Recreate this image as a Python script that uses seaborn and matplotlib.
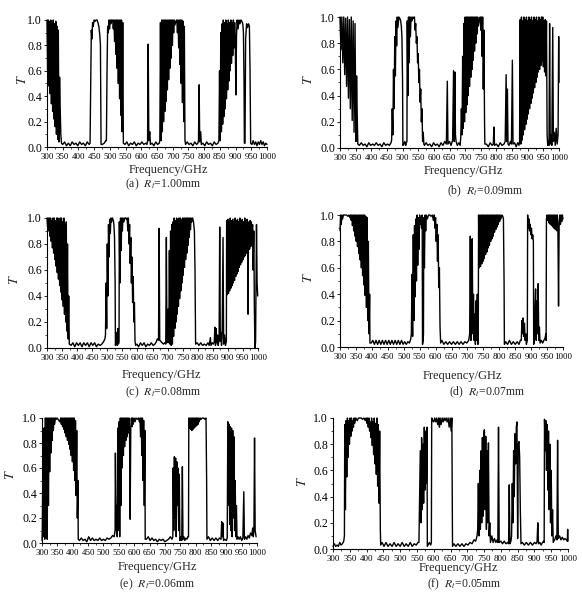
import matplotlib
matplotlib.use("Agg")
import matplotlib.pyplot as plt
import seaborn as sns
from matplotlib.ticker import MultipleLocator

sns.set_style("ticks")
plt.rcParams['font.family'] = ['Liberation Serif', 'DejaVu Serif']
plt.rcParams['mathtext.fontset'] = 'stix'

# transmission spectra: (frequency GHz, T)
spec_a = [
    (300, 1.0), (302, 0.6), (304, 1.0), (306, 0.48), (308, 0.99), (310, 0.42), (312, 1.0), (314, 0.34),
    (316, 0.98), (318, 0.28), (320, 1.0), (322, 0.22), (324, 0.97), (326, 0.16), (328, 0.99), (330, 0.10),
    (332, 0.95), (334, 0.06), (336, 0.92), (338, 0.04), (340, 0.55), (342, 0.3), (344, 0.1), (346, 0.03),
    (350, 0.02), (356, 0.04), (362, 0.01), (368, 0.03), (374, 0.01), (380, 0.04), (386, 0.02), (392, 0.03),
    (398, 0.01), (404, 0.04), (410, 0.02), (416, 0.03), (422, 0.01), (428, 0.04), (434, 0.02), (437, 0.03),
    (439, 0.5), (441, 0.92), (443, 0.85), (445, 0.98), (447, 0.95), (450, 1.0), (453, 0.99), (456, 1.0),
    (459, 1.0), (462, 0.98), (465, 0.95), (468, 0.88), (470, 0.8), (471, 0.4), (472, 0.02),
    (476, 0.02), (482, 0.03), (487, 0.05), (489, 0.05), (491, 0.6), (493, 0.95), (495, 0.9), (497, 1.0),
    (499, 0.93), (501, 1.0), (503, 0.97), (505, 1.0), (507, 0.99), (509, 1.0), (511, 0.93), (513, 1.0),
    (515, 0.83), (517, 1.0), (519, 0.73), (521, 1.0), (523, 0.62), (525, 1.0), (527, 0.5), (529, 1.0),
    (531, 0.38), (533, 1.0), (535, 0.25), (537, 1.0), (539, 0.12), (541, 0.98), (543, 0.03),
    (548, 0.02), (554, 0.04), (560, 0.01), (566, 0.03), (572, 0.02), (578, 0.04), (584, 0.01), (590, 0.03),
    (596, 0.02), (602, 0.04), (608, 0.02), (614, 0.03), (618, 0.02), (620, 0.05), (622, 0.81), (624, 0.05),
    (627, 0.12), (629, 0.02), (634, 0.03), (640, 0.01), (646, 0.04), (652, 0.02), (657, 0.03),
    (659, 0.05), (661, 0.98), (663, 0.05), (665, 1.0), (667, 0.12), (669, 1.0), (671, 0.2), (673, 1.0),
    (675, 0.28), (677, 1.0), (679, 0.36), (681, 1.0), (683, 0.45), (685, 1.0), (687, 0.53), (689, 1.0),
    (691, 0.62), (693, 1.0), (695, 0.7), (697, 1.0), (699, 0.8), (701, 1.0), (703, 0.9), (705, 1.0),
    (707, 0.96), (710, 0.99), (713, 1.0), (715, 0.9), (717, 1.0), (719, 0.78), (721, 1.0), (723, 0.65),
    (725, 1.0), (727, 0.5), (729, 1.0), (731, 0.35), (733, 0.99), (735, 0.2), (737, 0.95), (739, 0.05),
    (741, 0.02), (746, 0.04), (752, 0.02), (758, 0.03), (764, 0.01), (770, 0.04), (776, 0.02), (780, 0.03),
    (782, 0.05), (784, 0.49), (786, 0.04), (789, 0.12), (791, 0.02), (796, 0.03), (802, 0.01), (808, 0.04),
    (814, 0.02), (820, 0.03), (826, 0.01), (832, 0.04), (838, 0.02), (844, 0.03),
    (847, 0.05), (849, 0.6), (851, 0.05), (853, 0.9), (855, 0.12), (857, 0.97), (859, 0.18), (861, 1.0),
    (863, 0.24), (865, 0.98), (867, 0.3), (869, 1.0), (871, 0.38), (873, 0.97), (875, 0.45), (877, 1.0),
    (879, 0.52), (881, 0.98), (883, 0.6), (885, 1.0), (887, 0.66), (889, 0.98), (891, 0.72), (893, 1.0),
    (895, 0.78), (897, 0.98), (899, 0.84), (901, 0.41), (903, 0.88), (905, 1.0), (908, 0.93), (911, 1.0),
    (914, 0.97), (917, 1.0), (920, 0.99), (923, 0.97), (925, 0.9), (927, 0.5), (928, 0.03), (930, 0.03),
    (932, 0.85), (935, 0.97), (938, 0.94), (941, 0.97), (944, 0.95), (946, 0.6), (948, 0.03),
    (952, 0.02), (956, 0.05), (960, 0.02), (964, 0.04), (968, 0.01), (972, 0.04), (976, 0.02), (980, 0.05),
    (984, 0.02), (988, 0.04), (992, 0.01), (996, 0.03), (1000, 0.02),
]

spec_b = [
    (300, 1.0), (303, 0.75), (306, 1.0), (309, 0.65), (312, 1.0), (315, 0.56), (318, 0.99), (321, 0.47),
    (324, 1.0), (327, 0.38), (330, 0.98), (333, 0.3), (336, 1.0), (339, 0.21), (342, 0.97), (345, 0.12),
    (348, 0.95), (351, 0.05), (353, 0.55), (355, 0.25), (357, 0.03),
    (362, 0.02), (368, 0.04), (374, 0.02), (380, 0.03), (386, 0.01), (392, 0.04), (398, 0.02), (404, 0.03),
    (410, 0.02), (416, 0.04), (422, 0.02), (428, 0.03), (434, 0.01), (440, 0.04), (446, 0.02), (452, 0.03),
    (458, 0.02), (463, 0.04),
    (465, 0.06), (467, 0.3), (469, 0.1), (471, 0.6), (473, 0.3), (475, 0.85), (477, 0.55), (479, 0.97),
    (481, 0.78), (483, 1.0), (485, 0.92), (488, 1.0), (491, 0.99), (494, 0.97), (496, 0.93), (498, 0.85),
    (500, 0.5), (501, 0.02), (504, 0.03), (507, 0.05), (510, 0.02), (512, 0.04),
    (514, 0.05), (515, 0.97), (517, 0.4), (519, 1.0), (521, 0.65), (523, 1.0), (525, 0.85), (527, 1.0),
    (530, 0.97), (533, 1.0), (536, 0.99), (538, 1.0), (540, 0.9), (542, 0.95), (544, 0.8), (546, 0.85),
    (548, 0.65), (550, 0.72), (552, 0.5), (554, 0.6), (556, 0.35), (558, 0.45), (560, 0.2), (562, 0.3),
    (564, 0.05), (566, 0.12), (568, 0.03), (570, 0.02),
    (575, 0.04), (581, 0.02), (587, 0.03), (593, 0.01), (599, 0.04), (605, 0.02), (611, 0.03), (617, 0.01),
    (623, 0.04), (629, 0.02), (635, 0.05), (640, 0.03), (643, 0.51), (645, 0.03), (650, 0.05), (655, 0.02),
    (660, 0.06), (663, 0.59), (665, 0.05), (667, 0.58), (669, 0.1), (671, 0.05), (675, 0.02), (680, 0.04),
    (684, 0.02), (686, 0.08),
    (688, 0.3), (690, 0.1), (692, 0.7), (694, 0.15), (696, 0.95), (698, 0.2), (700, 1.0), (702, 0.27),
    (704, 1.0), (706, 0.33), (708, 1.0), (710, 0.4), (712, 1.0), (714, 0.47), (716, 1.0), (718, 0.54),
    (720, 1.0), (722, 0.6), (724, 1.0), (726, 0.67), (728, 1.0), (730, 0.74), (732, 1.0), (734, 0.8),
    (736, 1.0), (738, 0.87), (740, 1.0), (742, 0.93), (745, 0.98), (748, 1.0), (750, 0.9), (752, 1.0),
    (754, 0.7), (756, 1.0), (758, 0.45), (760, 0.9), (762, 0.2), (763, 0.03),
    (768, 0.03), (774, 0.01), (780, 0.04), (786, 0.02), (790, 0.03), (792, 0.16), (794, 0.02), (800, 0.03),
    (806, 0.01), (812, 0.04), (818, 0.02), (824, 0.03), (828, 0.05), (830, 0.4), (831, 0.56), (833, 0.05),
    (835, 0.45), (837, 0.03), (840, 0.02), (845, 0.05), (848, 0.03), (851, 0.67), (853, 0.03), (858, 0.04),
    (863, 0.01), (868, 0.04), (872, 0.02),
    (874, 0.05), (876, 0.98), (878, 0.03), (880, 1.0), (882, 0.06), (884, 0.97), (886, 0.1), (888, 1.0),
    (890, 0.14), (892, 0.98), (894, 0.18), (896, 1.0), (898, 0.22), (900, 0.97), (902, 0.26), (904, 1.0),
    (906, 0.3), (908, 0.98), (910, 0.34), (912, 1.0), (914, 0.38), (916, 0.97), (918, 0.42), (920, 1.0),
    (922, 0.46), (924, 0.98), (926, 0.5), (928, 1.0), (930, 0.54), (932, 0.97), (934, 0.58), (936, 1.0),
    (938, 0.6), (940, 0.98), (942, 0.63), (944, 1.0), (946, 0.66), (948, 1.0), (950, 0.62), (952, 0.97),
    (954, 0.58), (956, 0.98), (958, 0.55), (960, 0.97), (962, 0.1), (964, 0.02), (966, 0.05), (968, 0.02),
    (970, 0.95), (972, 0.03), (975, 0.1), (977, 0.02), (980, 0.92), (982, 0.05), (985, 0.12), (988, 0.02),
    (991, 0.15), (994, 0.03), (997, 0.1), (999, 0.85), (1000, 0.5),
]

spec_c = [
    (300, 1.0), (302, 0.93), (304, 1.0), (306, 0.9), (308, 1.0), (310, 0.86), (312, 1.0), (314, 0.82),
    (316, 0.98), (318, 0.77), (320, 1.0), (322, 0.73), (324, 1.0), (326, 0.68), (328, 0.98), (330, 0.63),
    (332, 1.0), (334, 0.58), (336, 1.0), (338, 0.53), (340, 0.98), (342, 0.48), (344, 1.0), (346, 0.43),
    (348, 1.0), (350, 0.37), (352, 0.97), (354, 0.32), (356, 1.0), (358, 0.26), (360, 0.95), (362, 0.2),
    (364, 0.97), (366, 0.13), (368, 0.8), (370, 0.07), (372, 0.4), (374, 0.03),
    (380, 0.02), (386, 0.04), (392, 0.01), (398, 0.04), (404, 0.02), (410, 0.04), (416, 0.01), (422, 0.04),
    (428, 0.02), (434, 0.04), (440, 0.01), (446, 0.04), (452, 0.02), (458, 0.04), (464, 0.01), (470, 0.03),
    (476, 0.02), (482, 0.03), (488, 0.05), (492, 0.07),
    (494, 0.1), (496, 0.5), (498, 0.15), (500, 0.8), (502, 0.4), (504, 0.95), (506, 0.7), (508, 0.99),
    (510, 0.88), (512, 1.0), (514, 0.97), (517, 1.0), (520, 0.98), (522, 0.95), (524, 0.85), (526, 0.5),
    (527, 0.02), (529, 0.05), (531, 0.12), (533, 0.02), (535, 0.15), (537, 0.03),
    (539, 0.05), (540, 0.97), (542, 0.5), (544, 1.0), (546, 0.75), (548, 1.0), (550, 0.9), (552, 1.0),
    (555, 0.97), (558, 1.0), (561, 1.0), (564, 0.99), (566, 1.0), (568, 0.9), (570, 1.0), (572, 0.8),
    (574, 0.95), (576, 0.65), (578, 0.85), (580, 0.5), (582, 0.7), (584, 0.35), (586, 0.55), (588, 0.2),
    (590, 0.35), (592, 0.05), (594, 0.02),
    (598, 0.03), (604, 0.01), (610, 0.04), (616, 0.02), (622, 0.04), (628, 0.01), (634, 0.03), (640, 0.02),
    (646, 0.04), (652, 0.02), (658, 0.03), (663, 0.05), (666, 0.07), (670, 0.06), (672, 0.92), (674, 0.06),
    (678, 0.05), (682, 0.04), (686, 0.03), (690, 0.04), (694, 0.03), (696, 0.85), (698, 0.04), (700, 0.06),
    (702, 0.3), (704, 0.04), (706, 0.75), (708, 0.03), (710, 0.9), (712, 0.02), (714, 0.95), (716, 0.03),
    (718, 0.97), (720, 0.09), (722, 1.0), (724, 0.15), (726, 0.98), (728, 0.2), (730, 1.0), (732, 0.26),
    (734, 0.99), (736, 0.32), (738, 1.0), (740, 0.38), (742, 1.0), (744, 0.44), (746, 0.99), (748, 0.5),
    (750, 1.0), (752, 0.56), (754, 1.0), (756, 0.62), (758, 1.0), (760, 0.68), (762, 1.0), (764, 0.73),
    (766, 1.0), (768, 0.79), (770, 1.0), (772, 0.85), (774, 1.0), (776, 0.91), (778, 1.0), (780, 0.97),
    (783, 1.0), (786, 0.97), (789, 0.9), (791, 0.6), (793, 0.03),
    (798, 0.04), (804, 0.02), (810, 0.04), (816, 0.02), (822, 0.03), (828, 0.02), (834, 0.04), (838, 0.02),
    (842, 0.08), (844, 0.02), (848, 0.04), (852, 0.03), (855, 0.05), (857, 0.16), (859, 0.02), (861, 0.15),
    (863, 0.04), (866, 0.1), (868, 0.02), (871, 0.08), (873, 0.93), (875, 0.05), (877, 0.12), (879, 0.02),
    (881, 0.1), (884, 0.85), (886, 0.03), (889, 0.1), (892, 0.02), (895, 0.05),
    (896, 0.98), (898, 0.41), (900, 0.99), (902, 0.42), (904, 0.97), (906, 0.44), (908, 1.0), (910, 0.46),
    (912, 0.98), (914, 0.48), (916, 0.99), (918, 0.5), (920, 0.97), (922, 0.52), (924, 1.0), (926, 0.55),
    (928, 0.98), (930, 0.57), (932, 0.99), (934, 0.59), (936, 0.97), (938, 0.62), (940, 1.0), (942, 0.64),
    (944, 0.98), (946, 0.66), (948, 0.99), (950, 0.68), (952, 0.97), (954, 0.7), (956, 1.0), (958, 0.71),
    (960, 0.98), (962, 0.73), (964, 0.99), (966, 0.74), (967, 0.26), (968, 0.75), (970, 0.97), (972, 0.76),
    (974, 0.98), (976, 0.78), (978, 0.97), (980, 0.8), (982, 0.95), (984, 0.6), (986, 0.9), (988, 0.3),
    (990, 0.0), (992, 0.05), (994, 0.6), (995, 0.95), (997, 0.5), (999, 0.4),
]

spec_d = [
    (300, 0.88), (302, 1.0), (304, 0.93), (306, 1.0), (308, 0.97), (311, 1.0), (315, 1.0), (320, 1.0),
    (325, 0.99), (328, 1.0), (331, 0.98), (333, 1.0), (335, 0.96), (337, 1.0), (339, 0.92), (341, 1.0),
    (343, 0.88), (345, 1.0), (347, 0.84), (349, 1.0), (351, 0.8), (353, 1.0), (355, 0.76), (357, 1.0),
    (359, 0.71), (361, 1.0), (363, 0.66), (365, 1.0), (367, 0.6), (369, 1.0), (371, 0.54), (373, 1.0),
    (375, 0.47), (377, 1.0), (379, 0.39), (381, 0.99), (383, 0.3), (385, 0.98), (387, 0.2), (389, 0.8),
    (391, 0.1), (393, 0.4), (394, 0.03),
    (398, 0.03), (403, 0.05), (408, 0.02), (413, 0.05), (418, 0.02), (423, 0.05), (428, 0.02), (433, 0.05),
    (438, 0.02), (443, 0.05), (448, 0.02), (453, 0.05), (458, 0.02), (463, 0.05), (468, 0.02), (473, 0.05),
    (478, 0.02), (483, 0.05), (488, 0.02), (493, 0.05), (498, 0.02), (503, 0.04), (508, 0.02), (513, 0.04),
    (518, 0.03), (522, 0.06),
    (524, 0.1), (526, 0.55), (528, 0.08), (530, 0.85), (532, 0.2), (534, 0.92), (536, 0.38), (538, 0.97),
    (540, 0.5), (542, 1.0), (544, 0.62), (546, 0.98), (548, 0.74), (550, 1.0), (552, 0.93), (554, 0.98),
    (556, 0.9), (558, 1.0), (559, 0.02), (561, 0.05),
    (562, 0.1), (563, 0.98), (565, 0.6), (567, 1.0), (569, 0.88), (571, 1.0), (574, 0.97), (578, 1.0),
    (582, 1.0), (586, 0.99), (590, 1.0), (593, 0.96), (596, 1.0), (598, 0.9), (600, 0.98), (602, 0.8),
    (604, 0.93), (606, 0.65), (608, 0.85), (610, 0.45), (612, 0.6), (614, 0.15), (616, 0.03),
    (620, 0.05), (626, 0.02), (632, 0.04), (638, 0.02), (644, 0.04), (650, 0.02), (656, 0.04), (662, 0.02),
    (668, 0.04), (674, 0.02), (680, 0.04), (686, 0.02), (692, 0.04), (698, 0.03), (704, 0.05),
    (707, 0.1), (709, 0.84), (711, 0.05), (713, 0.5), (715, 0.82), (717, 0.1), (719, 0.4), (721, 0.05),
    (723, 0.25), (725, 0.02), (727, 0.35), (729, 0.05), (731, 0.4), (733, 0.02),
    (734, 0.05), (735, 1.0), (737, 0.6), (739, 1.0), (741, 0.61), (743, 1.0), (745, 0.63), (747, 1.0),
    (749, 0.65), (751, 1.0), (753, 0.67), (755, 1.0), (757, 0.7), (759, 1.0), (761, 0.72), (763, 1.0),
    (765, 0.75), (767, 1.0), (769, 0.77), (771, 1.0), (773, 0.8), (775, 1.0), (777, 0.82), (779, 1.0),
    (781, 0.84), (783, 1.0), (785, 0.87), (787, 1.0), (789, 0.89), (791, 1.0), (793, 0.91), (795, 1.0),
    (797, 0.93), (799, 1.0), (801, 0.95), (803, 1.0), (805, 0.97), (808, 1.0), (811, 0.99), (813, 0.97),
    (815, 0.5), (816, 0.02),
    (820, 0.04), (826, 0.02), (832, 0.05), (838, 0.02), (844, 0.04), (850, 0.02), (856, 0.04), (862, 0.02),
    (866, 0.05), (869, 0.05), (871, 0.2), (873, 0.1), (875, 0.22), (877, 0.08), (879, 0.18), (881, 0.05),
    (883, 0.1), (885, 0.02), (887, 0.04),
    (888, 0.05), (889, 1.0), (891, 0.9), (893, 0.97), (895, 0.88), (897, 0.93), (899, 0.85), (901, 0.9),
    (903, 0.82), (905, 0.85), (907, 0.8), (908, 0.02), (910, 0.05), (912, 0.3), (914, 0.44), (916, 0.05),
    (918, 0.35), (920, 0.1), (922, 0.48), (924, 0.05), (926, 0.15), (928, 0.03), (932, 0.05), (936, 0.03),
    (940, 0.05), (944, 0.07), (946, 0.1),
    (947, 0.05), (948, 0.97), (950, 1.0), (952, 0.96), (954, 1.0), (956, 0.94), (958, 1.0), (960, 0.93),
    (962, 1.0), (964, 0.92), (966, 1.0), (968, 0.91), (970, 1.0), (972, 0.9), (974, 1.0), (976, 0.89),
    (978, 1.0), (980, 0.88), (982, 1.0), (984, 0.9), (986, 0.31), (988, 0.95), (990, 1.0), (992, 0.93),
    (994, 1.0), (996, 0.95), (998, 1.0), (1000, 0.97),
]

spec_e = [
    (300, 0.02), (301, 0.1), (303, 0.65), (305, 0.05), (307, 0.92), (309, 0.03), (311, 1.0), (313, 0.05),
    (315, 1.0), (317, 0.03), (319, 1.0), (321, 0.3), (323, 1.0), (325, 0.57), (327, 1.0), (329, 0.72),
    (331, 1.0), (333, 0.82), (335, 1.0), (337, 0.9), (339, 1.0), (341, 0.95), (344, 1.0), (347, 0.99),
    (349, 1.0), (352, 0.99), (355, 0.98), (358, 0.97), (361, 1.0), (363, 0.95), (365, 1.0), (367, 0.93),
    (369, 1.0), (371, 0.91), (373, 1.0), (375, 0.88), (377, 1.0), (379, 0.85), (381, 1.0), (383, 0.82),
    (385, 1.0), (387, 0.79), (389, 1.0), (391, 0.75), (393, 1.0), (395, 0.7), (397, 1.0), (399, 0.65),
    (401, 1.0), (403, 0.58), (405, 1.0), (407, 0.5), (409, 0.98), (411, 0.38), (413, 0.9), (415, 0.2),
    (417, 0.5), (418, 0.03),
    (422, 0.02), (428, 0.04), (434, 0.02), (440, 0.03), (446, 0.01), (452, 0.05), (458, 0.02), (464, 0.04),
    (470, 0.02), (476, 0.03), (482, 0.02), (488, 0.04), (494, 0.02), (500, 0.03), (506, 0.02), (512, 0.04),
    (518, 0.03), (524, 0.04), (530, 0.06), (535, 0.05), (538, 0.1),
    (539, 0.72), (541, 0.1), (543, 0.3), (545, 0.05), (547, 0.92), (549, 0.1), (551, 0.97), (553, 0.05),
    (555, 1.0), (557, 0.3), (559, 1.0), (561, 0.6), (563, 1.0), (565, 0.7), (567, 1.0), (569, 0.77),
    (571, 1.0), (573, 0.82), (575, 1.0), (577, 0.85), (579, 1.0), (581, 0.88), (583, 1.0), (585, 0.9),
    (587, 0.19), (589, 0.92), (591, 1.0), (593, 0.93), (595, 1.0), (597, 0.95), (600, 1.0), (603, 0.97),
    (606, 1.0), (610, 0.99), (614, 1.0), (617, 0.97), (619, 1.0), (621, 0.85), (623, 1.0), (625, 0.7),
    (627, 1.0), (629, 0.5), (631, 0.98), (633, 0.3), (635, 0.9), (636, 0.03),
    (640, 0.03), (646, 0.05), (652, 0.02), (658, 0.04), (664, 0.02), (670, 0.03), (676, 0.01), (682, 0.03),
    (688, 0.02), (694, 0.03), (700, 0.01), (706, 0.02), (712, 0.03), (718, 0.05), (723, 0.03),
    (726, 0.05), (727, 0.6), (729, 0.1), (731, 0.69), (733, 0.2), (735, 0.68), (737, 0.05), (739, 0.65),
    (741, 0.3), (743, 0.6), (745, 0.1), (747, 0.55), (749, 0.02), (752, 0.05), (755, 0.02), (757, 0.61),
    (759, 0.03), (762, 0.05), (765, 0.02), (768, 0.04), (772, 0.03), (775, 0.05),
    (777, 0.05), (778, 1.0), (780, 0.92), (782, 1.0), (784, 0.91), (786, 1.0), (788, 0.9), (790, 1.0),
    (792, 0.91), (794, 1.0), (796, 0.92), (798, 1.0), (800, 0.93), (802, 1.0), (804, 0.94), (806, 1.0),
    (808, 0.95), (810, 1.0), (812, 0.97), (815, 1.0), (818, 0.99), (822, 1.0), (826, 1.0), (830, 0.99),
    (834, 1.0), (836, 0.5), (837, 0.03),
    (842, 0.05), (848, 0.02), (854, 0.04), (860, 0.02), (866, 0.04), (872, 0.02), (878, 0.04), (883, 0.03),
    (885, 0.17), (887, 0.05), (889, 0.16), (891, 0.02), (895, 0.03), (900, 0.02), (903, 0.04),
    (905, 0.97), (907, 0.3), (909, 0.95), (911, 0.15), (913, 0.93), (915, 0.1), (917, 0.92), (919, 0.05),
    (921, 0.9), (923, 0.2), (925, 0.85), (927, 0.1), (929, 0.5), (931, 0.05), (933, 0.3), (935, 0.03),
    (938, 0.05), (942, 0.03), (946, 0.05), (950, 0.02), (954, 0.04), (957, 0.41), (959, 0.03), (963, 0.05),
    (967, 0.03), (971, 0.06), (975, 0.04), (979, 0.08), (983, 0.06), (986, 0.12), (988, 0.05), (990, 0.1),
    (992, 0.84), (994, 0.1), (997, 0.05),
]

spec_f = [
    (300, 0.02), (304, 0.04), (308, 0.02), (312, 0.03), (316, 0.02), (320, 0.05), (324, 0.03), (328, 0.04),
    (332, 0.06),
    (334, 0.1), (335, 0.95), (337, 0.3), (339, 0.98), (341, 0.55), (343, 1.0), (345, 0.7), (347, 0.98),
    (349, 0.8), (351, 1.0), (353, 0.86), (355, 1.0), (357, 0.9), (359, 0.98), (361, 0.93), (363, 1.0),
    (365, 0.96), (368, 1.0), (372, 0.98), (376, 1.0), (380, 1.0), (384, 1.0), (388, 0.99), (392, 1.0),
    (396, 0.98), (399, 1.0), (401, 0.96), (403, 1.0), (405, 0.93), (407, 1.0), (409, 0.9), (411, 0.97),
    (413, 0.85), (415, 1.0), (417, 0.79), (419, 0.97), (421, 0.72), (423, 1.0), (425, 0.65), (427, 0.96),
    (429, 0.57), (431, 1.0), (433, 0.48), (435, 0.95), (437, 0.35), (439, 0.9), (441, 0.15), (442, 0.03),
    (446, 0.05), (452, 0.02), (458, 0.05), (464, 0.02), (470, 0.04), (476, 0.02), (482, 0.05), (488, 0.02),
    (494, 0.04), (500, 0.02), (506, 0.05), (512, 0.02), (518, 0.04), (524, 0.02), (530, 0.05), (536, 0.02),
    (542, 0.04), (548, 0.03), (553, 0.05),
    (556, 0.05), (558, 0.4), (560, 0.75), (562, 0.2), (564, 0.85), (566, 0.3), (568, 0.8), (570, 0.35),
    (572, 0.93), (574, 0.45), (576, 0.9), (578, 0.5), (580, 0.93), (581, 0.02), (583, 0.03), (587, 0.05),
    (591, 0.03),
    (593, 0.05), (594, 1.0), (597, 0.98), (600, 0.97), (603, 1.0), (606, 0.97), (609, 1.0), (612, 0.95),
    (615, 1.0), (617, 0.93), (619, 1.0), (622, 0.95), (625, 1.0), (628, 0.97), (631, 1.0), (634, 0.98),
    (637, 1.0), (640, 0.97), (643, 1.0), (646, 0.93), (649, 1.0), (652, 0.9), (654, 1.0), (655, 0.5),
    (656, 0.02),
    (660, 0.04), (666, 0.02), (672, 0.04), (678, 0.02), (684, 0.04), (690, 0.02), (696, 0.04), (702, 0.03),
    (708, 0.05), (714, 0.04), (720, 0.07), (725, 0.06), (729, 0.1),
    (731, 0.15), (733, 0.5), (735, 0.1), (737, 0.6), (739, 0.15), (741, 0.75), (743, 0.2), (745, 0.85),
    (747, 0.25), (749, 0.88), (751, 0.91), (753, 0.3), (755, 0.86), (757, 0.15), (759, 0.75), (761, 0.2),
    (763, 0.81), (765, 0.1), (767, 0.2), (769, 0.05),
    (773, 0.1), (777, 0.05), (781, 0.08), (785, 0.05), (789, 0.07), (791, 0.05), (793, 0.93), (795, 0.05),
    (800, 0.06), (805, 0.04), (810, 0.06), (815, 0.04), (820, 0.05), (823, 0.04), (825, 0.49), (827, 0.04),
    (830, 0.06),
    (832, 0.1), (834, 0.5), (836, 0.2), (838, 0.75), (840, 0.4), (842, 0.88), (844, 0.65), (846, 0.93),
    (848, 0.97), (850, 0.08), (852, 0.8), (854, 0.82), (856, 0.7), (858, 0.3), (860, 0.04),
    (864, 0.05), (870, 0.03), (876, 0.05), (882, 0.03), (888, 0.05), (894, 0.03), (900, 0.05), (905, 0.04),
    (908, 0.06), (910, 0.2), (912, 0.04), (916, 0.05), (920, 0.03), (924, 0.05), (928, 0.06),
    (929, 0.05), (930, 0.99), (932, 0.75), (934, 0.98), (936, 0.6), (938, 0.95), (940, 0.45), (942, 0.9),
    (944, 0.3), (946, 0.8), (948, 0.2), (950, 0.6), (952, 0.1), (954, 0.3), (956, 0.05),
    (960, 0.07), (964, 0.1), (967, 0.07), (969, 0.83), (971, 0.08), (975, 0.1), (979, 0.07), (983, 0.09),
    (987, 0.07), (991, 0.08), (995, 0.07), (998, 0.06), (999, 0.15), (1000, 0.06),
]

tags = ["(a)", "(b)", "(c)", "(d)", "(e)", "(f)"]
radii = ["1.00", "0.09", "0.08", "0.07", "0.06", "0.05"]
spectra = [spec_a, spec_b, spec_c, spec_d, spec_e, spec_f]
x_ticks = list(range(300, 1001, 50))

# layout in pixels: axes (left, top, right, bottom), T label, x label, caption
W, H = 582, 594
layout = [
    dict(ax=(47, 20, 267, 147), T=(22, 80), xl=(168, 170), cap=(163, 184)),
    dict(ax=(340, 17, 559, 148), T=(309, 80), xl=(463, 171), cap=(485, 191)),
    dict(ax=(47, 218, 258, 348), T=(15, 280), xl=(161, 375), cap=(163, 392)),
    dict(ax=(340, 215, 563, 347), T=(308, 278), xl=(462, 376), cap=(487, 392)),
    dict(ax=(42, 418, 257, 543), T=(10, 475), xl=(157, 567), cap=(157, 584)),
    dict(ax=(333, 418, 568, 549), T=(302, 482), xl=(458, 568), cap=(464, 584)),
]

fig = plt.figure(figsize=(W / 100, H / 100), dpi=100)

for spec, tag, rad, lay in zip(spectra, tags, radii, layout):
    l, t, r, b = lay["ax"]
    ax = fig.add_axes([l / W, 1 - b / H, (r - l) / W, (b - t) / H])
    f = [p[0] for p in spec]
    T = [p[1] for p in spec]
    sns.lineplot(x=f, y=T, ax=ax, color="black", linewidth=1.0,
                 sort=False, estimator=None, clip_on=False)
    ax.set_xlim(300, 1000)
    ax.set_ylim(0, 1.0)
    ax.set_xticks(x_ticks)
    ax.set_xticklabels([str(v) for v in x_ticks], fontsize=6.4)
    ax.xaxis.set_minor_locator(MultipleLocator(25))
    ax.yaxis.set_major_locator(MultipleLocator(0.2))
    ax.yaxis.set_minor_locator(MultipleLocator(0.1))
    ax.yaxis.set_major_formatter(plt.FuncFormatter(lambda v, p: f"{v:.1f}"))
    ax.tick_params(axis="y", labelsize=8.5, pad=1)
    ax.tick_params(axis="x", pad=1.5)
    ax.tick_params(which="major", direction="out", length=2.5, width=0.6, colors="black")
    ax.tick_params(which="minor", direction="out", length=1.5, width=0.5, colors="black")
    ax.set_xlabel("")
    ax.set_ylabel("")
    sns.despine(ax=ax)
    for s in ("left", "bottom"):
        ax.spines[s].set_linewidth(0.8)
        ax.spines[s].set_color("black")
    ax.grid(False)

    tx, ty = lay["T"]
    fig.text(tx / W, 1 - ty / H, "$T$", rotation=90, fontsize=10, ha="center", va="center")
    xx, xy = lay["xl"]
    fig.text(xx / W, 1 - xy / H, "Frequency/GHz", fontsize=9, ha="center", va="center")
    cx, cy = lay["cap"]
    fig.text(cx / W, 1 - cy / H, f"{tag}  $R_t$=" + rad + "mm", fontsize=8.5, ha="center", va="center")

fig.savefig("out.png", dpi=100, facecolor="white")
